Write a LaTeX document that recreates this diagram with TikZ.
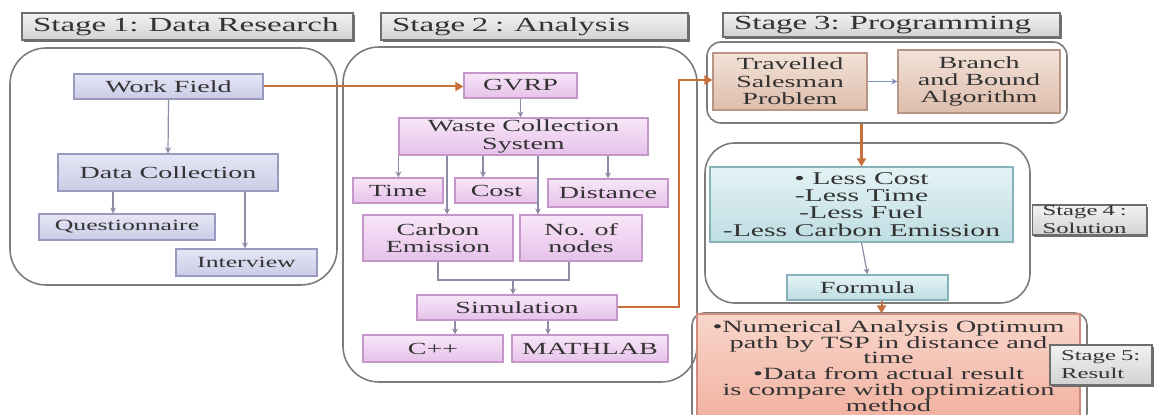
\documentclass[tikz,border=0pt]{standalone}
\usepackage{fontspec}
\setmainfont{Liberation Serif}[FakeStretch=1.65]
\usepackage{xcolor}
\usetikzlibrary{arrows.meta,shadows}

\definecolor{txt}{HTML}{333333}
\definecolor{frame}{HTML}{7C7C7C}
\definecolor{headline}{HTML}{6E6E6E}
\definecolor{headtop}{HTML}{F2F2F2}
\definecolor{headbot}{HTML}{D2D2D2}
\definecolor{onetop}{HTML}{E6E6F6}
\definecolor{onebot}{HTML}{CBCBE6}
\definecolor{oneline}{HTML}{9A9AC0}
\definecolor{twotop}{HTML}{F8E6F8}
\definecolor{twobot}{HTML}{E6C2EA}
\definecolor{twoline}{HTML}{C496CA}
\definecolor{threetop}{HTML}{F3E2D8}
\definecolor{threebot}{HTML}{DDBDAB}
\definecolor{threeline}{HTML}{B89686}
\definecolor{fourtop}{HTML}{E4F3F5}
\definecolor{fourbot}{HTML}{BEDDE3}
\definecolor{fourline}{HTML}{88B2BA}
\definecolor{fivetop}{HTML}{F9D6CA}
\definecolor{fivebot}{HTML}{F1B2A2}
\definecolor{fiveline}{HTML}{CF8C7C}
\definecolor{orangeline}{HTML}{C8703C}
\definecolor{arrowgray}{HTML}{8C8CA4}
\definecolor{bluegray}{HTML}{8090C0}

\tikzset{
  stagehead/.style={draw=headline, line width=0.9pt, top color=headtop, bottom color=headbot,
    inner xsep=5.5pt, inner ysep=0pt, align=left, text=txt, font=\fontsize{10}{11}\selectfont,
    drop shadow={shadow xshift=0.9pt, shadow yshift=-0.9pt, fill=headline, opacity=1}},
  stagelabel/.style={stagehead, font=\fontsize{7.5}{9}\selectfont},
  stagebox/.style={draw=frame, line width=0.8pt, inner sep=0pt},
  box/.style={line width=0.6pt, inner sep=0pt, align=center, text=txt,
    font=\fontsize{8.5}{8.7}\selectfont},
  fieldbox/.style={box, draw=oneline, top color=onetop, bottom color=onebot},
  anabox/.style={box, draw=twoline, top color=twotop, bottom color=twobot},
  progbox/.style={box, draw=threeline, top color=threetop, bottom color=threebot},
  solbox/.style={box, draw=fourline, top color=fourtop, bottom color=fourbot},
  resbox/.style={box, draw=fiveline, top color=fivetop, bottom color=fivebot},
  gline/.style={-{Stealth[length=3pt,width=3pt]}, draw=arrowgray, line width=0.6pt},
  oline/.style={-{Triangle[length=4pt,width=4.5pt]}, draw=orangeline, line width=1pt},
}

\begin{document}
\begin{tikzpicture}[x=0.5pt, y=-0.5pt]
% research flow: data -> analysis -> programming -> solution -> result
\useasboundingbox (0,0) rectangle (1154,415);

% stage frames
\node[stagebox, rounded corners=18pt, minimum width=163.5pt, minimum height=118.5pt] (c1) at (173.5,166.5) {};
\node[stagebox, rounded corners=18pt, minimum width=177pt, minimum height=167.5pt] (c2) at (520,214.5) {};
\node[stagebox, rounded corners=7pt, minimum width=180pt, minimum height=40.5pt] (c3) at (887,82.5) {};
\node[stagebox, rounded corners=15pt, minimum width=162.5pt, minimum height=80pt] (c4) at (867.5,223) {};
\node[stagebox, rounded corners=6pt, minimum width=197.5pt, minimum height=56pt] (c5) at (889.5,369) {};

% headers
\node[stagehead, text width=154.5pt, minimum height=13.5pt] (h1) at (187.5,26.5) {Stage 1: Data Research};
\node[stagehead, text width=142.5pt, minimum height=13.5pt] (h2) at (534.5,26.5) {Stage 2 : Analysis};
\node[stagehead, text width=157.5pt, minimum height=12pt] (h3) at (891.5,25) {Stage 3: Programming};

% stage 1
\node[fieldbox, minimum width=94.5pt, minimum height=12.5pt] (work) at (168.5,86.5) {Work Field};
\node[fieldbox, minimum width=110pt, minimum height=18.5pt] (dcoll) at (168,172.5) {Data Collection};
\node[fieldbox, minimum width=88pt, minimum height=13pt, font=\fontsize{7.8}{8.7}\selectfont] (quest) at (127,227) {Questionnaire};
\node[fieldbox, minimum width=70.5pt, minimum height=13.5pt, font=\fontsize{7.8}{8.7}\selectfont] (interv) at (246.5,262.5) {Interview};

\draw[gline] (work.south) -- (dcoll.north);
\draw[gline] ([xshift=-27.5pt]dcoll.south) -- ([xshift=-27.5pt]dcoll.south |- quest.north);
\draw[gline] ([xshift=38.5pt]dcoll.south) -- ([xshift=38.5pt]dcoll.south |- interv.north);

% stage 2
\node[anabox, minimum width=56.5pt, minimum height=12.5pt] (gvrp) at (520.5,85.5) {GVRP};
\node[anabox, minimum width=124.5pt, minimum height=18.5pt] (wcs) at (523.5,136.5) {Waste Collection\\System};
\node[anabox, minimum width=45pt, minimum height=12.5pt] (time) at (398,190.5) {Time};
\node[anabox, minimum width=41.5pt, minimum height=12.5pt] (cost) at (496.5,190.5) {Cost};
\node[anabox, minimum width=60pt, minimum height=14pt] (dist) at (608,193) {Distance};
\node[anabox, minimum width=75pt, minimum height=23pt] (carbon) at (438,238) {Carbon\\Emission};
\node[anabox, minimum width=61pt, minimum height=23pt] (nnodes) at (581,238) {No. of\\nodes};
\node[anabox, minimum width=100pt, minimum height=12.5pt] (sim) at (517,307.5) {Simulation};
\node[anabox, minimum width=70pt, minimum height=13.5pt] (cpp) at (433,348.5) {C++};
\node[anabox, minimum width=78pt, minimum height=13.5pt] (mlab) at (590,348.5) {MATHLAB};

\draw[oline] (work.east) -- (work.east -| gvrp.west);
\draw[gline] (gvrp.south) -- (gvrp.south |- wcs.north);
\draw[gline] (wcs.south west) -- (wcs.south west |- time.north);
\draw[gline] ([xshift=-6.75pt]cost.north |- wcs.south) -- ([xshift=-6.75pt]cost.north);
\draw[gline] (dist.north |- wcs.south) -- (dist.north);
\draw[gline] ([xshift=4.5pt]carbon.north |- wcs.south) -- ([xshift=4.5pt]carbon.north);
\draw[gline] ([xshift=-21.5pt]nnodes.north |- wcs.south) -- ([xshift=-21.5pt]nnodes.north);
\coordinate (cm) at (513,280);
\draw[gline, -] (carbon.south) |- (cm) -| ([xshift=-6pt]nnodes.south);
\draw[gline] (cm) -- (cm |- sim.north);
\draw[gline] ([xshift=-31pt]sim.south) -- ([xshift=-31pt]sim.south |- cpp.north);
\draw[gline] ([xshift=15.5pt]sim.south) -- ([xshift=15.5pt]sim.south |- mlab.north);

% stage 3
\node[progbox, minimum width=77pt, minimum height=28.5pt] (tsp) at (790,81.5) {Travelled\\Salesman\\Problem};
\node[progbox, minimum width=81pt, minimum height=31.5pt] (bnb) at (979,81.5) {Branch\\and Bound\\Algorithm};

\coordinate (oturn) at (679,80);
\draw[oline] (sim.east) -| (oturn) -- (oturn -| tsp.west);
\draw[gline, draw=bluegray] (tsp.east) -- (tsp.east -| bnb.west);

% stage 4
\node[solbox, minimum width=151.5pt, minimum height=37.5pt, font=\fontsize{9}{8.6}\selectfont] (less) at (861.5,204.5) {• Less Cost\\-Less Time\\-Less Fuel\\-Less Carbon Emission};
\node[solbox, minimum width=80.5pt, minimum height=12.5pt] (formula) at (867.5,287.5) {Formula};
\node[stagelabel, text width=47pt, minimum height=15pt, inner xsep=5pt] (s4) at (1089.5,220) {Stage 4 :\\Solution};

\draw[oline, line width=1.8pt] (less.north |- c3.south) -- (less.north);
\draw[gline] (less.south) -- (formula.north);

% stage 5
\node[resbox, minimum width=191.5pt, minimum height=52pt, font=\fontsize{8.6}{7.9}\selectfont] (res) at (888.5,366) {•Numerical Analysis Optimum\\path by TSP in distance and\\time\\•Data from actual result\\is compare with optimization\\method};
\node[stagelabel, text width=40pt, minimum height=20pt] (s5) at (1101,365) {Stage 5:\\Result};

\draw[oline] ([xshift=7pt]formula.south) -- ([xshift=7pt]formula.south |- res.north);

\end{tikzpicture}
\end{document}
